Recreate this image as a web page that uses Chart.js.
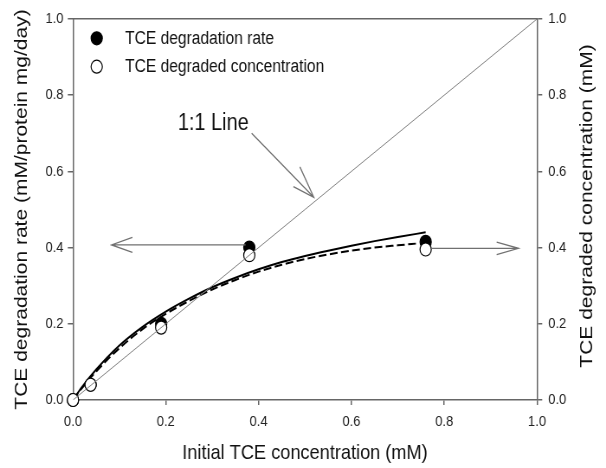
<!DOCTYPE html>
<html><head><meta charset="utf-8">
<script src="https://cdn.jsdelivr.net/npm/chart.js@4.4.1/dist/chart.umd.min.js"></script>
<style>
html,body{margin:0;padding:0;background:#fff;overflow:hidden;}
#wrap{width:700px;height:468px;transform:scaleX(0.865714);transform-origin:0 0;}
</style></head><body>
<div id="wrap"><canvas id="c"></canvas></div>
<script>
// ---- data ----
const initialConc     = [0, 0.038, 0.19, 0.38, 0.76];
const degradationRate = [0, 0.040, 0.200, 0.400, 0.415];
const degradedConc    = [0, 0.040, 0.190, 0.380, 0.395];

const rateFitX = [0, 0.02, 0.05, 0.1, 0.15, 0.2, 0.25, 0.3, 0.35, 0.4, 0.45, 0.5, 0.55, 0.6, 0.65, 0.7, 0.76];
const rateFitY = [0, 0.035, 0.080, 0.143, 0.192, 0.232, 0.266, 0.296, 0.321, 0.343, 0.362, 0.378, 0.392, 0.405, 0.417, 0.428, 0.440];
const concFitX = [0, 0.02, 0.05, 0.1, 0.15, 0.2, 0.25, 0.3, 0.35, 0.4, 0.45, 0.5, 0.55, 0.6, 0.65, 0.7, 0.744];
const concFitY = [0, 0.032, 0.075, 0.136, 0.186, 0.226, 0.260, 0.290, 0.315, 0.337, 0.355, 0.370, 0.382, 0.392, 0.400, 0.406, 0.411];

const oneToOneX = [0, 1];
const oneToOneY = [0, 1];

const tickLabels = ['0.0', '0.2', '0.4', '0.6', '0.8', '1.0'];
const seriesNames = ['TCE degradation rate', 'TCE degraded concentration'];
const xTitle = 'Initial TCE concentration (mM)';
const yLeftTitle = 'TCE degradation rate (mM/protein mg/day)';
const yRightTitle = 'TCE degraded concentration (mM)';
const lineLabelText = '1:1 Line';

// annotation anchors (data units)
const arrowLeft  = {tail: [0.372, 0.407], tip: [0.083, 0.407], wings: [[0.128, 0.4267], [0.128, 0.3873]]};
const arrowRight = {tail: [0.773, 0.398], tip: [0.960, 0.398], wings: [[0.913, 0.4145], [0.913, 0.3815]]};
const arrowLine  = {tail: [0.385, 0.700], tip: [0.519, 0.532], wings: [[0.489, 0.612], [0.475, 0.560]]};
const lineLabelAt = [0.226, 0.709];

const zip = (xs, ys) => xs.map((x, i) => ({x: x, y: ys[i]}));
const FONT = "'Liberation Sans', Arial, sans-serif";
const AXIS = '#666';

const annot = {
  id: 'annot',
  afterDatasetsDraw(chart) {
    const ctx = chart.ctx, sx = chart.scales.x, sy = chart.scales.y;
    const P = p => [sx.getPixelForValue(p[0]), sy.getPixelForValue(p[1])];
    ctx.save();
    ctx.strokeStyle = '#707070';
    ctx.lineWidth = 1.3;
    [arrowLeft, arrowRight, arrowLine].forEach(a => {
      const t = P(a.tail), h = P(a.tip), w1 = P(a.wings[0]), w2 = P(a.wings[1]);
      ctx.beginPath();
      ctx.moveTo(t[0], t[1]); ctx.lineTo(h[0], h[1]);
      ctx.moveTo(w1[0], w1[1]); ctx.lineTo(h[0], h[1]); ctx.lineTo(w2[0], w2[1]);
      ctx.stroke();
    });
    // 1:1 label
    const lp = P(lineLabelAt);
    ctx.fillStyle = '#111';
    ctx.font = '23px ' + FONT;
    ctx.textAlign = 'left';
    ctx.textBaseline = 'alphabetic';
    ctx.fillText(lineLabelText, lp[0], lp[1]);
    // legend
    ctx.font = '18px ' + FONT;
    const rows = [[38.3, 43.5, true], [66.7, 72, false]];
    rows.forEach((r, i) => {
      ctx.beginPath();
      ctx.arc(111.7, r[0], 6.5, 0, Math.PI * 2);
      ctx.fillStyle = r[2] ? '#000' : '#fff';
      ctx.fill();
      ctx.lineWidth = 1.2; ctx.strokeStyle = '#000';
      ctx.stroke();
      ctx.fillStyle = '#111';
      ctx.fillText(seriesNames[i], 144.4, r[1]);
    });
    // right axis title (reads bottom-to-top)
    ctx.font = '21px ' + FONT;
    ctx.translate(678, 206);
    ctx.rotate(-Math.PI / 2);
    ctx.textAlign = 'center';
    ctx.textBaseline = 'middle';
    ctx.fillText(yRightTitle, 0, 0);
    ctx.restore();
  }
};

new Chart(document.getElementById('c'), {
  type: 'scatter',
  data: {
    datasets: [
      {label: 'fit rate', data: zip(rateFitX, rateFitY), showLine: true, borderColor: '#000', borderWidth: 2,
       pointRadius: 0, fill: false, cubicInterpolationMode: 'monotone', xAxisID: 'x', yAxisID: 'y', order: 3},
      {label: 'fit conc', data: zip(concFitX, concFitY), showLine: true, borderColor: '#000', borderWidth: 2,
       borderDash: [9, 4], pointRadius: 0, fill: false, cubicInterpolationMode: 'monotone', xAxisID: 'x', yAxisID: 'y2', order: 3},
      {label: seriesNames[0], data: zip(initialConc, degradationRate), showLine: false, pointRadius: 6.5,
       pointBackgroundColor: '#000', pointBorderColor: '#000', pointBorderWidth: 1.2, clip: false,
       xAxisID: 'x', yAxisID: 'y', order: 2},
      {label: seriesNames[1], data: zip(initialConc, degradedConc), showLine: false, pointRadius: 6.5,
       pointBackgroundColor: '#fff', pointBorderColor: '#000', pointBorderWidth: 1.2, clip: false,
       xAxisID: 'x', yAxisID: 'y2', order: 1},
      {label: '1:1', data: zip(oneToOneX, oneToOneY), showLine: true, borderColor: '#808080', borderWidth: 1,
       pointRadius: 0, fill: false, xAxisID: 'x', yAxisID: 'y', order: 0}
    ]
  },
  options: {
    responsive: true, maintainAspectRatio: false, animation: false, devicePixelRatio: 1,
    layout: {padding: {top: 19, left: 0, right: 0, bottom: 0}},
    plugins: {legend: {display: false}, tooltip: {enabled: false}},
    scales: {
      x: {
        type: 'linear', position: 'bottom', min: 0, max: 1,
        afterFit: s => { s.height = 68; },
        ticks: {stepSize: 0.2, padding: 8, color: '#222', font: {family: FONT, size: 15},
                callback: (v, i) => tickLabels[i]},
        grid: {drawOnChartArea: false, tickLength: 5, color: AXIS, lineWidth: 1.5},
        border: {color: AXIS, width: 1.5},
        title: {display: true, text: xTitle, color: '#111', font: {family: FONT, size: 21},
                padding: {top: 0, bottom: 2.4}}
      },
      x2: {
        type: 'linear', position: 'top', min: 0, max: 1,
        afterFit: s => { s.height = 0; },
        ticks: {display: false}, grid: {display: false, drawTicks: false},
        border: {display: true, color: AXIS, width: 1.5}
      },
      y: {
        type: 'linear', position: 'left', min: 0, max: 1,
        afterFit: s => { s.width = 84.3; },
        ticks: {stepSize: 0.2, padding: 5, color: '#222', font: {family: FONT, size: 15},
                callback: (v, i) => tickLabels[i]},
        grid: {drawOnChartArea: false, tickLength: 6, color: AXIS, lineWidth: 1.5},
        border: {color: AXIS, width: 1.5},
        title: {display: true, text: yLeftTitle, color: '#111', font: {family: FONT, size: 21},
                padding: {top: 13, bottom: 0}}
      },
      y2: {
        type: 'linear', position: 'right', min: 0, max: 1,
        afterFit: s => { s.width = 79.7; },
        ticks: {stepSize: 0.2, padding: 7, color: '#222', font: {family: FONT, size: 15},
                callback: (v, i) => tickLabels[i]},
        grid: {drawOnChartArea: false, tickLength: 6, color: AXIS, lineWidth: 1.5},
        border: {color: AXIS, width: 1.5}
      }
    }
  },
  plugins: [annot]
});
</script>
</body></html>
